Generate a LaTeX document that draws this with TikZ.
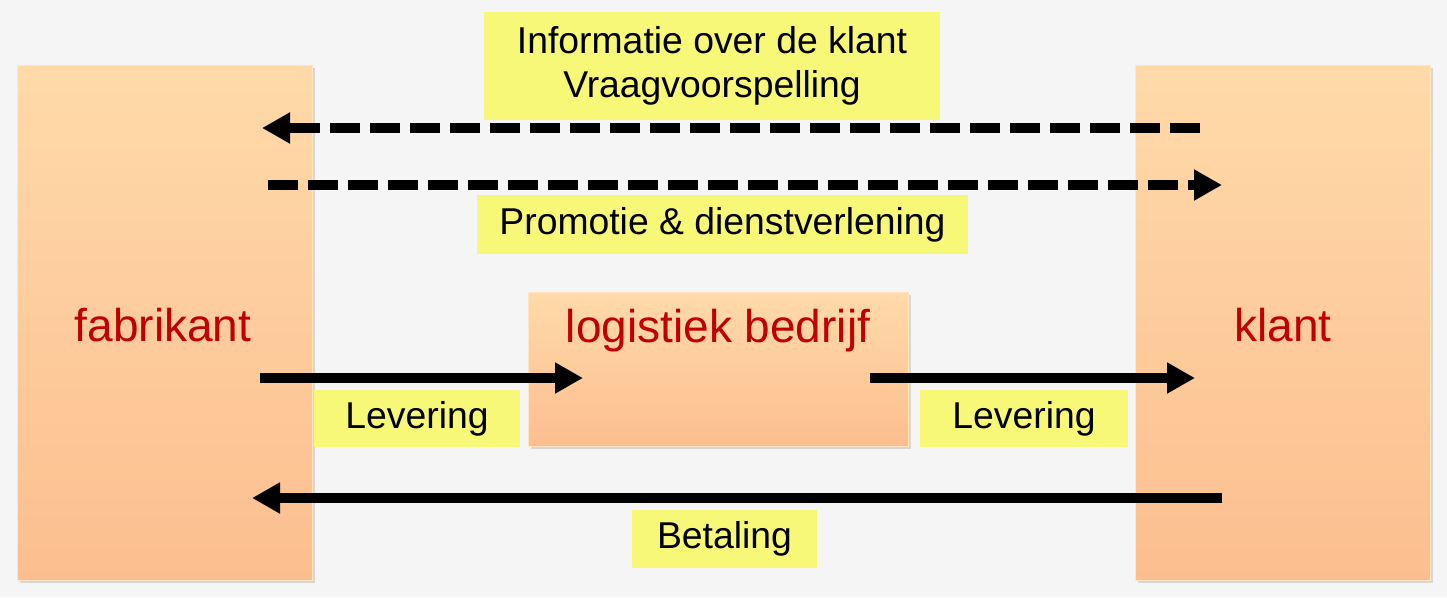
\documentclass[tikz,border=0pt]{standalone}
\usepackage{fontspec}
\setmainfont{Liberation Sans}
\usetikzlibrary{arrows.meta,shadows}
\definecolor{bg}{HTML}{F5F5F5}
\definecolor{peachtop}{HTML}{FFDAA8}
\definecolor{peachbot}{HTML}{FCBE8F}
\definecolor{labelyellow}{HTML}{F8F878}
\definecolor{darkred}{HTML}{C00000}
\tikzset{
  party/.style={rectangle, inner sep=0pt, top color=peachtop, bottom color=peachbot,
    draw=peachtop!70!white, line width=0.4pt,
    drop shadow={opacity=0.25, shadow xshift=2pt, shadow yshift=-2.5pt}},
  partytext/.style={text=darkred, font=\fontsize{34.5}{40}\selectfont, inner sep=0pt},
  tag/.style={rectangle, fill=labelyellow, inner sep=0pt, font=\fontsize{28}{33}\selectfont, align=center},
  flow/.style={line width=7.5pt, -{Triangle[length=21pt,width=22pt]}},
  dflow/.style={flow, dash pattern=on 22.5pt off 7.5pt}
}
\begin{document}
\begin{tikzpicture}[x=0.75pt,y=-0.75pt]
\fill[bg] (0,0) rectangle (1447,597);
\useasboundingbox (0,0) rectangle (1447,597);
% parties
\node[party, minimum width=221.25pt, minimum height=386.25pt] (fab) at (164.5,322.5) {};
\node[party, minimum width=221.25pt, minimum height=386.25pt] (kl) at (1282.5,322.5) {};
\node[party, minimum width=285pt, minimum height=115.5pt] (log) at (718,369) {};
\node[partytext] (fabt) at (163,325) {fabrikant};
\node[partytext] (klt) at (1283,325) {klant};
\node[partytext] (logt) at (718,331) {logistiek bedrijf};
% labels
\node[tag, minimum width=342pt, minimum height=81pt] (info) at (712,66) {Informatie over de klant\\Vraagvoorspelling};
\node[tag, minimum width=368.25pt, minimum height=44.25pt] (promo) at (722.5,224.5) {Promotie \& dienstverlening};
\node[tag, minimum width=154.5pt, minimum height=42.75pt] (lev1) at (417,418.5) {Levering};
\node[tag, minimum width=156pt, minimum height=42.75pt] (lev2) at (1024,418.5) {Levering};
\node[tag, minimum width=138.75pt, minimum height=43.5pt] (bet) at (724.5,539) {Betaling};
% arrow end points
\coordinate (a1s) at (1200,128); \coordinate (a1e) at (262,128);
\coordinate (a2s) at (268,185);  \coordinate (a2e) at (1222,185);
\coordinate (b1s) at (260,378);  \coordinate (b1e) at (583,378);
\coordinate (b2s) at (870,378);  \coordinate (b2e) at (1195,378);
\coordinate (c1s) at (1222,498); \coordinate (c1e) at (252,498);
% arrows
\draw[dflow] (a1s) -- (a1e);
\draw[dflow] (a2s) -- (a2e);
\draw[flow] (b1s) -- (b1e);
\draw[flow] (b2s) -- (b2e);
\draw[flow] (c1s) -- (c1e);
\end{tikzpicture}
\end{document}
